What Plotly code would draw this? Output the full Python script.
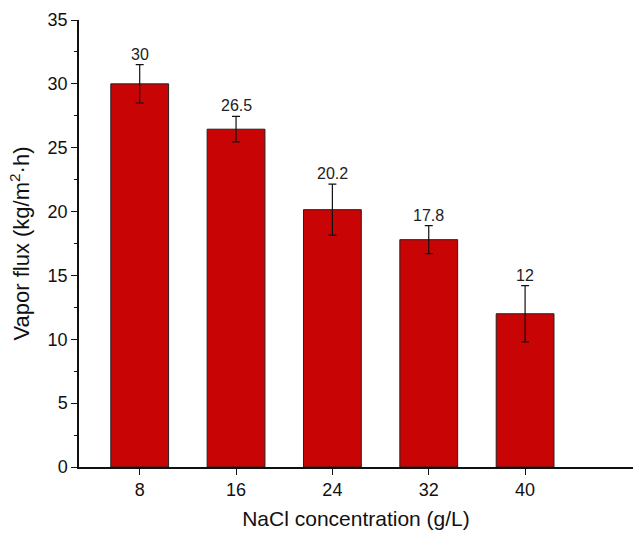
import plotly.graph_objects as go

concentrations = ["8", "16", "24", "32", "40"]
flux = [30.0, 26.45, 20.15, 17.8, 12.0]
flux_err = [1.5, 1.0, 2.0, 1.1, 2.2]
labels = ["30", "26.5", "20.2", "17.8", "12"]

FONT = "Liberation Sans, Arial, sans-serif"

fig = go.Figure()
fig.add_trace(go.Bar(
    x=list(range(len(concentrations))),
    y=flux,
    width=0.6,
    marker=dict(color="#c80404", line=dict(color="#222222", width=1)),
    error_y=dict(type="data", array=flux_err, visible=True,
                 color="#111111", thickness=1.2, width=4),
    showlegend=False,
    hoverinfo="skip",
))

for i, (v, e, t) in enumerate(zip(flux, flux_err, labels)):
    fig.add_annotation(x=i, y=v + e, text=t, showarrow=False,
                       yanchor="bottom", yshift=0,
                       font=dict(family=FONT, size=16, color="#222222"))

fig.update_layout(
    width=633, height=541,
    margin=dict(l=79, r=0, t=20, b=74),
    paper_bgcolor="white", plot_bgcolor="white",
    font=dict(family=FONT, color="#111111"),
)
fig.update_xaxes(
    range=[-0.63, 5.12], automargin=False,
    tickmode="array", tickvals=list(range(len(concentrations))), ticktext=concentrations,
    showline=True, linecolor="#111111", linewidth=1.5,
    ticks="outside", ticklen=6, tickwidth=1.2, tickcolor="#111111",
    showgrid=False, zeroline=False,
    tickfont=dict(size=18),
    title=dict(text="NaCl concentration (g/L)", font=dict(size=21), standoff=12),
)
fig.update_yaxes(
    range=[0, 35], dtick=5, tick0=0, automargin=False,
    showline=True, linecolor="#111111", linewidth=1.5,
    ticks="outside", ticklen=6, tickwidth=1.2, tickcolor="#111111",
    minor=dict(dtick=2.5, tick0=0, ticks="outside", ticklen=3, tickwidth=1, tickcolor="#111111", showgrid=False),
    showgrid=False, zeroline=False,
    tickfont=dict(size=18),
    title=dict(text="Vapor flux (kg/m<sup>2</sup>·h)", font=dict(size=22), standoff=12),
)

fig.write_html("out.html", config={"displayModeBar": False},
               post_script="document.body.style.margin='0';document.body.style.overflow='hidden';")
